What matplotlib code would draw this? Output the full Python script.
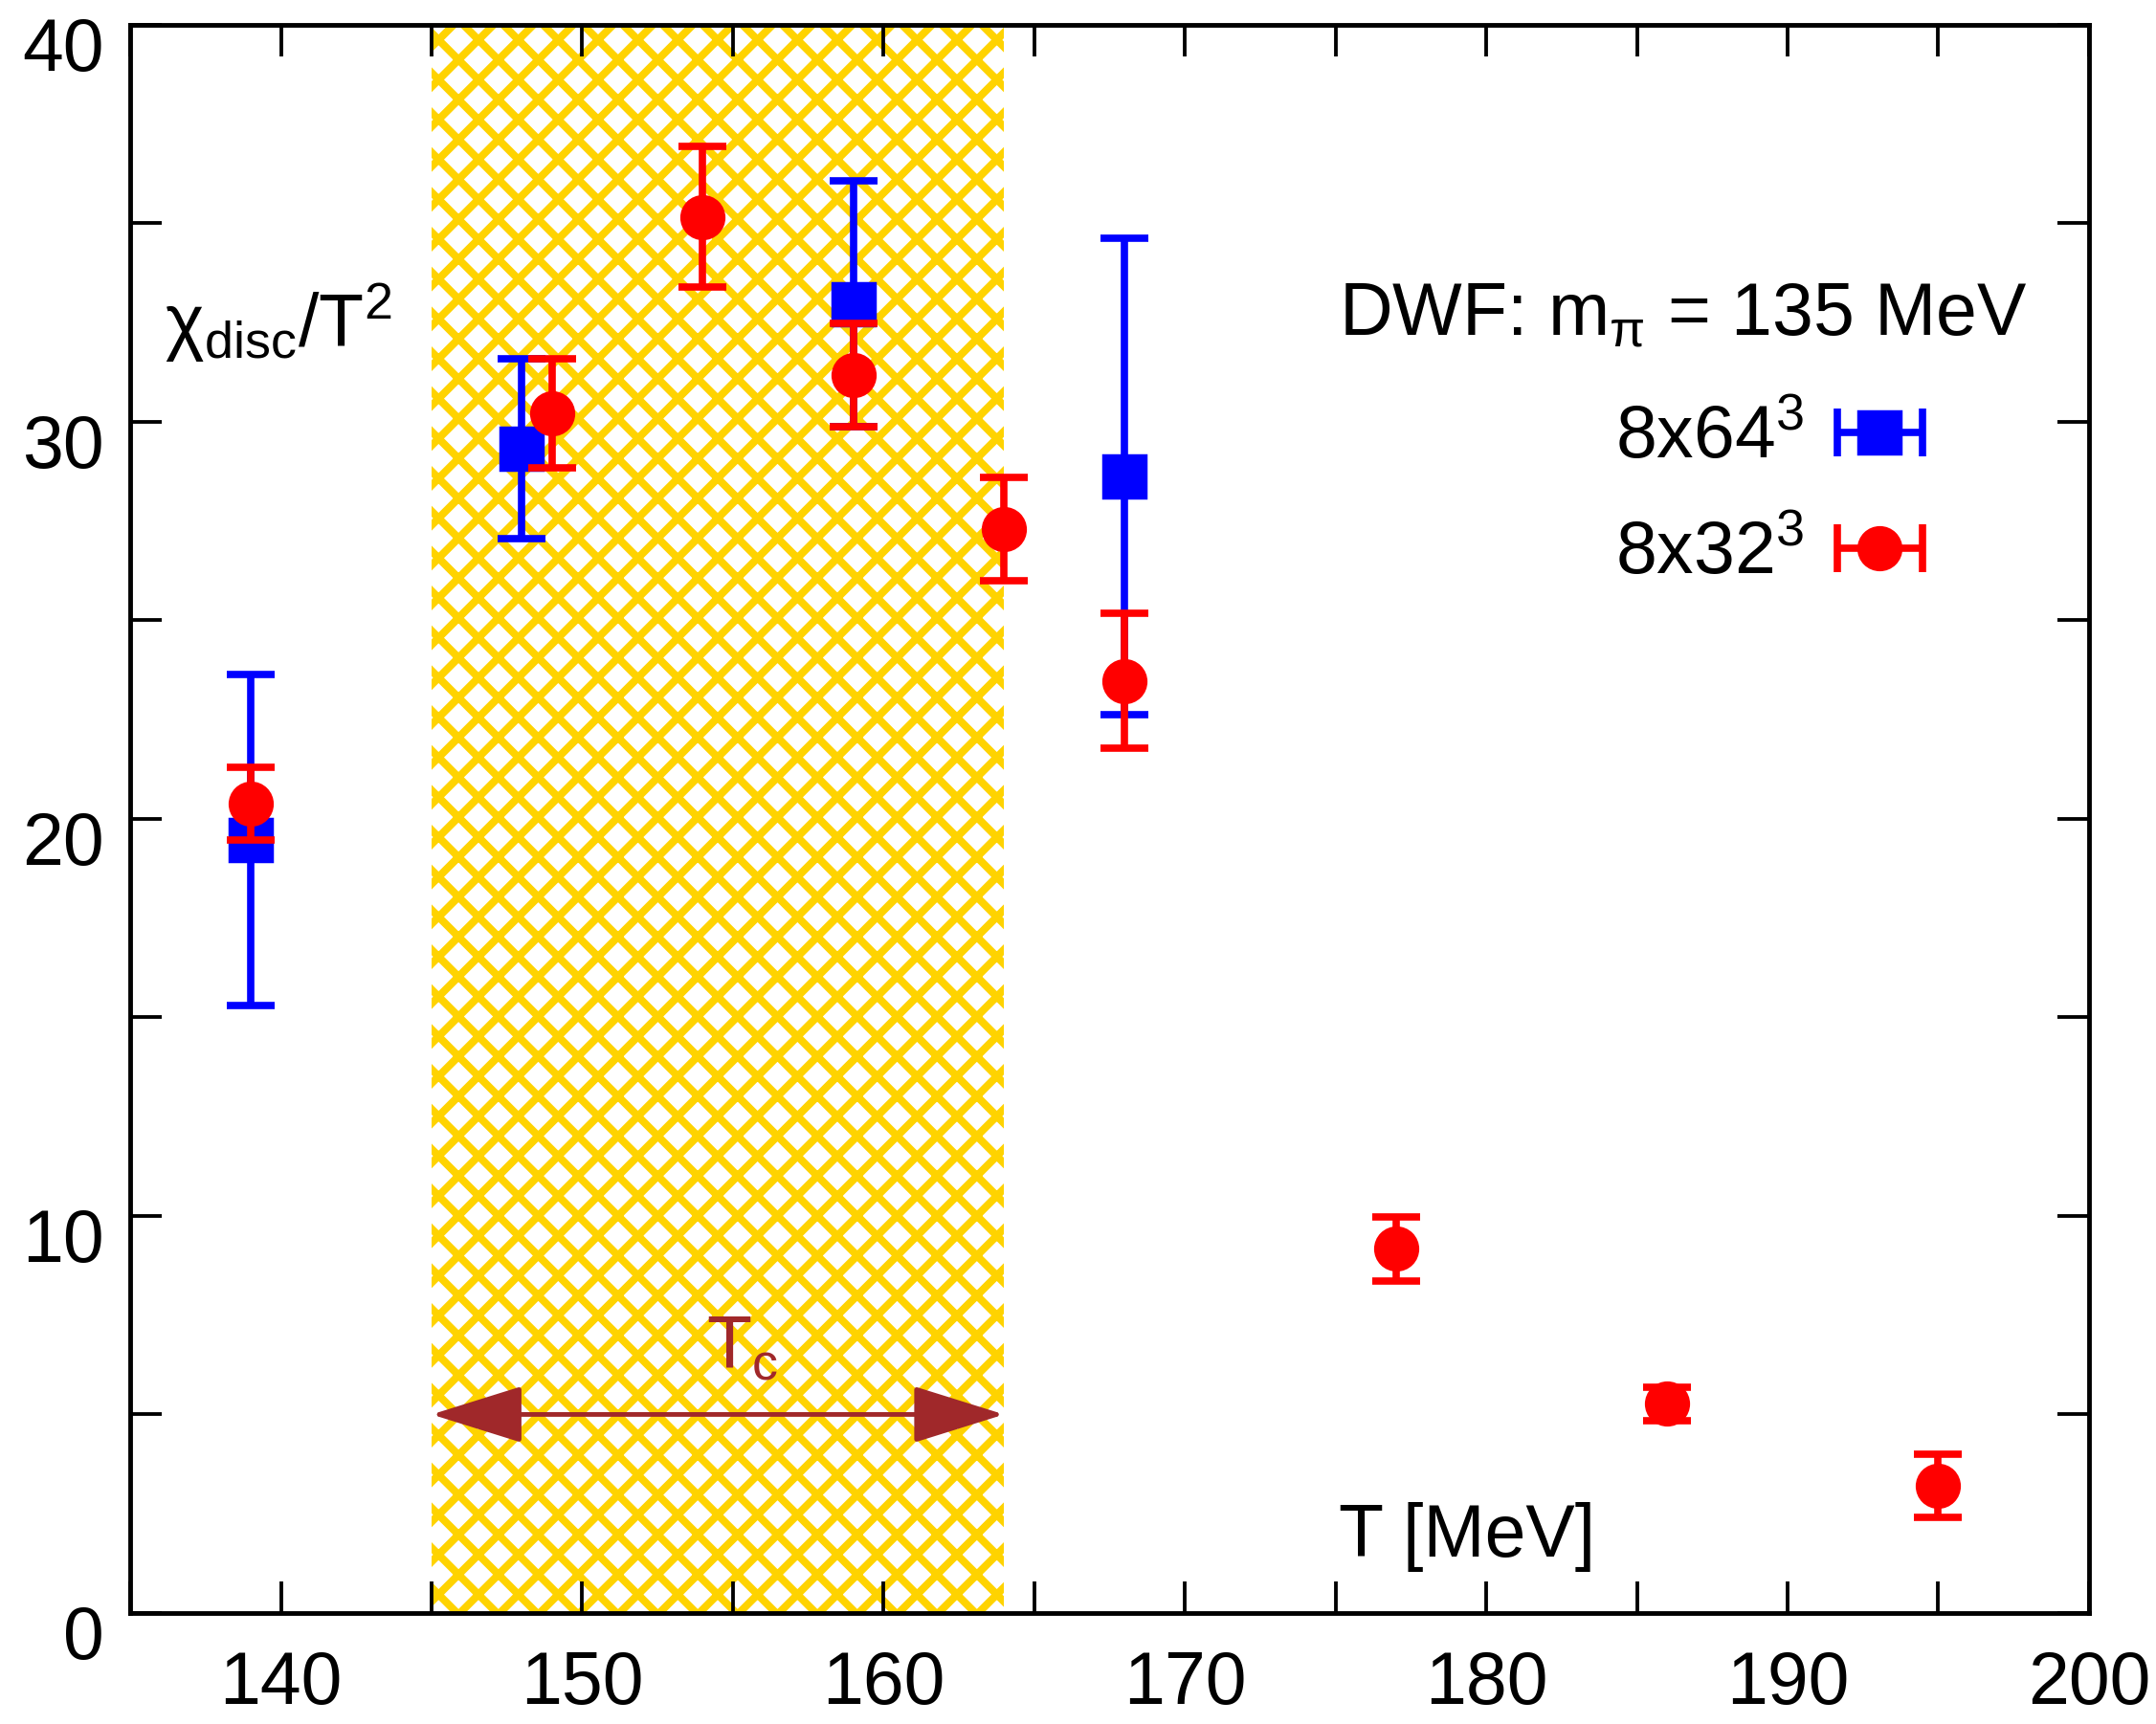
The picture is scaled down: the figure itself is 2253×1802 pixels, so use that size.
import numpy as np
import matplotlib
matplotlib.use("Agg")
import matplotlib.pyplot as plt
import matplotlib.transforms as mtransforms
from matplotlib.ticker import MultipleLocator
from matplotlib.lines import Line2D
from matplotlib.collections import LineCollection
from matplotlib.container import ErrorbarContainer
from matplotlib.legend_handler import HandlerErrorbar

# chiral disconnected susceptibility, DWF ensembles
T_64 = [139, 148, 159, 168]
chi_64 = [19.46, 29.32, 32.97, 28.63]
err_64 = [4.17, 2.27, 3.1, 6.0]

T_32 = [139, 149, 154, 159, 164, 168, 177, 186, 195]
chi_32 = [20.39, 30.22, 35.16, 31.18, 27.29, 23.48, 9.17, 5.27, 3.20]
err_32 = [0.92, 1.37, 1.77, 1.31, 1.30, 1.70, 0.81, 0.42, 0.80]

Tc_low, Tc_high = 145, 164
labels = ["8x64$^3$", "8x32$^3$"]

plt.rcParams['font.family'] = ['Liberation Sans', 'DejaVu Sans']
plt.rcParams['mathtext.fontset'] = 'custom'
plt.rcParams['mathtext.rm'] = 'Liberation Sans'
plt.rcParams['mathtext.default'] = 'regular'
plt.rcParams['hatch.linewidth'] = 2.3
plt.rcParams['font.size'] = 22.2

dpi = 250
fig = plt.figure(figsize=(2253 / dpi, 1802 / dpi), dpi=dpi)
ax = fig.add_axes([0.0604, 0.0644, 0.9085, 0.9212])

blue = '#0000ff'
red = '#ff0000'
gold = '#ffd300'
brown = '#a0282a'
lw = 2.2
cap = 7.2
ms = 12.6

# banda de Tc rayada
ax.axvspan(Tc_low, Tc_high, facecolor='white', edgecolor=gold, hatch='xx',
           linewidth=0, zorder=0)
ax.annotate('', xy=(Tc_low, 5), xytext=(Tc_high, 5),
            arrowprops=dict(arrowstyle='<|-|>,head_length=24,head_width=7.5',
                            mutation_scale=1, color=brown, lw=1.4,
                            shrinkA=0, shrinkB=0), zorder=2)
ax.text(154.1, 6.17, 'T$_c$', color=brown, va='baseline', zorder=2)

ax.errorbar(T_64, chi_64, yerr=err_64, fmt='s', color=blue, ms=ms,
            elinewidth=lw, capsize=cap, capthick=lw, zorder=3)
ax.errorbar(T_32, chi_32, yerr=err_32, fmt='o', color=red, ms=ms,
            elinewidth=lw, capsize=cap, capthick=lw, zorder=4)

ax.set_xlim(135, 200)
ax.set_ylim(0, 40)
ax.xaxis.set_major_locator(MultipleLocator(10))
ax.xaxis.set_minor_locator(MultipleLocator(5))
ax.yaxis.set_major_locator(MultipleLocator(10))
ax.yaxis.set_minor_locator(MultipleLocator(5))
ax.tick_params(which='both', direction='in', top=True, right=True,
               length=9.5, width=1.1)
ax.tick_params(axis='x', pad=11)
ax.tick_params(axis='y', pad=8)
for s in ax.spines.values():
    s.set_linewidth(1.4)

# etiquetas del eje y un poco mas abajo
off = mtransforms.ScaledTranslation(0, -20 / dpi, fig.dpi_scale_trans)
for lab in ax.get_yticklabels():
    lab.set_transform(lab.get_transform() + off)

ax.text(136.14, 31.88, 'χ$_{disc}$/T$^2$', va='baseline')
ax.text(175.1, 32.19, 'DWF: m$_π$ = 135 MeV', va='baseline')
ax.text(175.1, 1.42, 'T [MeV]', va='baseline')


def clave(color, marker):
    pt = Line2D([], [], ls='none', marker=marker, ms=ms, color=color)
    cl = Line2D([], [], ls='none', marker='|', ms=2 * cap, mew=lw, color=color)
    bar = LineCollection([], colors=color, linewidths=lw)
    return ErrorbarContainer((pt, (cl, cl), (bar,)), has_xerr=True, has_yerr=False)


handles = [clave(blue, 's'), clave(red, 'o')]
ax.legend(handles, labels, loc='center right', bbox_to_anchor=(0.915, 0.703),
          frameon=False, markerfirst=False, borderpad=0, borderaxespad=0,
          handlelength=1.16, handletextpad=0.44, labelspacing=0.62,
          handler_map={ErrorbarContainer: HandlerErrorbar(xerr_size=0.58)})

fig.savefig('out.png', dpi=dpi)
